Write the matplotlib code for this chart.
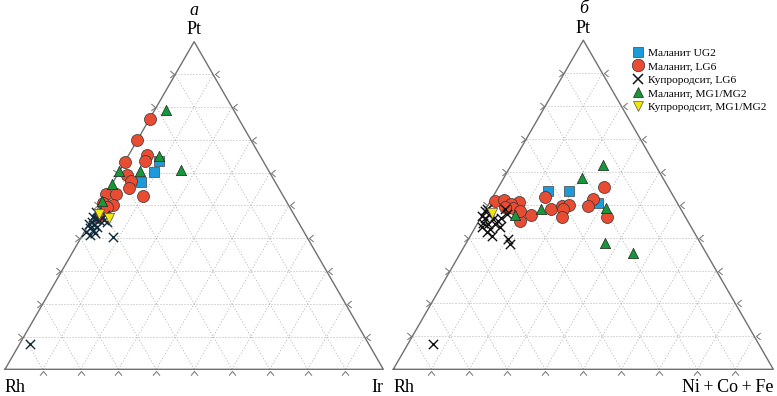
import numpy as np
import matplotlib
matplotlib.use('Agg')
import matplotlib.pyplot as plt
from matplotlib.path import Path
from matplotlib.lines import Line2D

plt.rcParams['font.family'] = ['Liberation Serif', 'DejaVu Serif']

# =========================
# Data: ternary compositions, % (Pt, and the right-hand vertex component)
# panel a: Pt - Rh - Ir, panel b: Pt - Rh - (Ni+Co+Fe)
# =========================
a_ug2_pt = [63.6, 60.2, 57.3]
a_ug2_ir = [8.9, 9.3, 7.2]

a_lg6_pt = [76.5, 69.9, 65.5, 63.6, 63.3, 59.4, 57.5, 55.3, 53.0, 53.6, 53.5, 50.2, 50.7, 49.5, 46.6]
a_lg6_ir = [0.0, 0.0, 4.9, 5.2, 0.0, 2.5, 4.5, 5.1, 9.9, 0.0, 2.5, 3.5, 0.6, 2.1, 1.4]

a_cup_lg6_pt = [48.0, 47.5, 46.5, 46.0, 45.5, 45.0, 44.5, 44.0, 43.5, 43.0, 42.5, 41.5, 41.0,
                40.5, 47.0, 45.5, 45.0, 42.0, 7.6]
a_cup_lg6_ir = [0.0, 1.0, 0.0, 1.0, 2.0, 0.5, 0.0, 1.5, 2.5, 1.0, 2.0, 3.0, 2.0,
                8.4, 3.0, 3.5, 4.5, 0.5, 2.8]

a_mg_pt = [79.0, 65.2, 60.9, 60.4, 60.4, 56.6, 51.4]
a_mg_ir = [3.1, 8.2, 16.0, 0.0, 5.5, 0.0, 0.0]

a_cup_mg_pt = [46.3, 47.5]
a_cup_mg_ir = [4.3, 1.0]

b_ug2_pt = [54.1, 54.3, 50.4]
b_ug2_nif = [13.7, 19.1, 28.6]

b_lg6_pt = [55.5, 52.4, 51.7, 49.7, 46.3, 48.7, 49.7, 49.9, 48.7, 46.4, 46.8, 45.1,
            50.9, 51.2, 51.4, 50.2, 48.9, 49.2, 48.2]
b_lg6_nif = [27.8, 13.7, 26.6, 26.5, 33.2, 17.1, 19.6, 21.3, 20.4, 21.1, 12.8, 10.8,
             7.7, 1.1, 3.5, 6.0, 7.1, 4.8, 9.2]

b_cup_lg6_pt = [48.2, 48.7, 46.6, 46.1, 47.2, 45.6, 44.6, 44.1, 44.1, 45.1, 46.1, 48.7,
                47.2, 43.1, 42.6, 41.6, 40.5, 39.5, 38.0, 43.1, 7.6]
b_cup_lg6_nif = [0.0, 0.2, 0.0, 1.1, 1.9, 3.5, 1.4, 3.0, 4.7, 5.1, 5.4, 5.0,
                 6.2, 1.7, 4.2, 3.8, 5.6, 10.5, 11.7, 6.5, 6.7]

b_mg_pt = [62.2, 58.2, 48.7, 47.0, 49.0, 38.5, 35.2]
b_mg_nif = [24.2, 20.5, 14.4, 8.4, 31.5, 36.5, 45.4]

b_cup_mg_pt = [47.5]
b_cup_mg_nif = [2.3]

labels = ["Маланит UG2", "Маланит, LG6", "Купрородсит, LG6",
          "Маланит, MG1/MG2", "Купрородсит, MG1/MG2"]

C_BLUE = "#1c9bd8"
C_RED = "#e84d33"
C_GREEN = "#16983a"
C_YEL = "#f3e60f"

H = np.sqrt(3) / 2


def tern(pt, right):
    pt = np.asarray(pt) / 100.0
    right = np.asarray(right) / 100.0
    return right + pt / 2, pt * H


# chevron tick shapes (tip at the tick point)
chev_up = Path([(-1, -1.2), (0, 0), (1, -1.2)], [Path.MOVETO, Path.LINETO, Path.LINETO])
chev_right = Path([(-1.2, 1), (0, 0), (-1.2, -1)], [Path.MOVETO, Path.LINETO, Path.LINETO])
chev_left = Path([(1.2, 1), (0, 0), (1.2, -1)], [Path.MOVETO, Path.LINETO, Path.LINETO])

GRID = dict(ls=(0, (1.2, 2.4)), color="#a8a8a8", lw=0.6, zorder=1)


def frame(ax, top, left, right, title):
    ax.set_aspect('equal')
    ax.axis('off')
    ax.plot([0, 1, 0.5, 0], [0, 0, H, 0], color="#707070", lw=1.0, zorder=2)
    f = np.arange(1, 10) / 10
    for v in f:
        # constant top component
        ax.plot([v / 2, 1 - v / 2], [v * H, v * H], **GRID)
        # constant right component
        ax.plot([v, v + (1 - v) / 2], [0, (1 - v) * H], **GRID)
        # constant left component
        ax.plot([1 - v, (1 - v) / 2], [0, (1 - v) * H], **GRID)
    kw = dict(ls='none', markersize=6, mfc='none', mec="#707070", mew=0.7, zorder=2)
    ax.plot(f, np.zeros_like(f) - 0.004, marker=chev_up, **kw)
    ax.plot(f / 2 - 0.004, f * H, marker=chev_right, **kw)
    ax.plot(1 - f / 2 + 0.004, f * H, marker=chev_left, **kw)
    ax.text(0.5, H + 0.031, top, ha='center', va='center', fontsize=13)
    ax.text(0.5, H + 0.083, title, ha='center', va='center', fontsize=13, style='italic')
    ax.text(0.0, -0.047, left, ha='left', va='center', fontsize=13)
    ax.text(1.0, -0.047, right, ha='right', va='center', fontsize=13)


def points(ax, ug2, lg6, cup6, mg, cupmg, xcol):
    x, y = tern(*ug2)
    ax.scatter(x, y, marker='s', s=52, c=C_BLUE, edgecolors="#444444", linewidths=0.5, zorder=3)
    x, y = tern(*lg6)
    ax.scatter(x, y, marker='o', s=75, c=C_RED, edgecolors="#333333", linewidths=0.5, zorder=4)
    x, y = tern(*cup6)
    ax.scatter(x, y, marker='x', s=45, c=xcol, linewidths=1.0, zorder=5)
    x, y = tern(*mg)
    ax.scatter(x, y, marker='^', s=55, c=C_GREEN, edgecolors="#222222", linewidths=0.5, zorder=6)
    x, y = tern(*cupmg)
    ax.scatter(x, y, marker='v', s=55, c=C_YEL, edgecolors="#555555", linewidths=0.5, zorder=7)


fig = plt.figure(figsize=(7.77, 3.96), dpi=100)

# panel a
ax1 = fig.add_axes([0, 0, 390 / 777, 1])
w1 = 378.3
ax1.set_xlim(-5 / w1, 385 / w1)
ax1.set_ylim(-26.7 / w1, 369.3 / w1)
frame(ax1, "Pt", "Rh", "Ir", "а")
points(ax1, (a_ug2_pt, a_ug2_ir), (a_lg6_pt, a_lg6_ir), (a_cup_lg6_pt, a_cup_lg6_ir),
       (a_mg_pt, a_mg_ir), (a_cup_mg_pt, a_cup_mg_ir), "#0f2a3c")

# panel b
ax2 = fig.add_axes([390 / 777, 0, 387 / 777, 1])
w2 = 380.0
ax2.set_xlim(-3.3 / w2, 383.7 / w2)
ax2.set_ylim(-26.7 / w2, 369.3 / w2)
frame(ax2, "Pt", "Rh", "Ni\u2009+\u2009Co\u2009+\u2009Fe", "б")
points(ax2, (b_ug2_pt, b_ug2_nif), (b_lg6_pt, b_lg6_nif), (b_cup_lg6_pt, b_cup_lg6_nif),
       (b_mg_pt, b_mg_nif), (b_cup_mg_pt, b_cup_mg_nif), "#111111")

handles = [
    Line2D([], [], ls='none', marker='s', ms=7, mfc=C_BLUE, mec="#444444", mew=0.5),
    Line2D([], [], ls='none', marker='o', ms=9, mfc=C_RED, mec="#333333", mew=0.5),
    Line2D([], [], ls='none', marker='x', ms=7, mec="#111111", mew=1.1),
    Line2D([], [], ls='none', marker='^', ms=7, mfc=C_GREEN, mec="#222222", mew=0.5),
    Line2D([], [], ls='none', marker='v', ms=7, mfc=C_YEL, mec="#555555", mew=0.5),
]
fig.legend(handles, labels, loc='upper left', bbox_to_anchor=(633 / 777, 1 - 48 / 396),
           frameon=False, fontsize=8.2, handlelength=0.9, handletextpad=0.45,
           labelspacing=0.3, borderpad=0, borderaxespad=0)

fig.savefig("out.png", dpi=100)
